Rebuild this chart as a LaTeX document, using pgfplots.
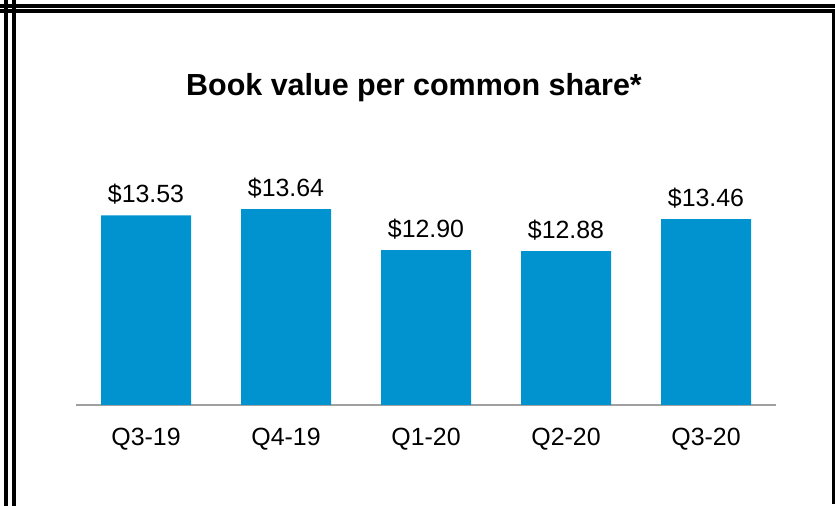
\documentclass[border=0pt]{standalone}
\usepackage{fontspec}
\setmainfont{Liberation Sans}
\usepackage{pgfplots}
\usepackage{pgfplotstable}
\pgfplotsset{compat=1.18}
\definecolor{barblue}{RGB}{0,147,208}
\definecolor{axisgray}{RGB}{160,160,160}

\pgfplotstableread{
x v
0 13.53
1 13.64
2 12.90
3 12.88
4 13.46
}\bookvalue

\begin{document}
\begin{tikzpicture}[x=1bp,y=1bp]
\useasboundingbox (0,0) rectangle (835,506);
% frame
\fill (4,0) rectangle (8,506);
\fill (12,0) rectangle (16,506);
\fill (0,498) rectangle (835,502);
\fill (0,493) rectangle (835,497);
\fill (832,2) rectangle (835,497);

\node[anchor=base,font=\fontsize{30.6}{32}\selectfont\bfseries] at (414,410) {Book value per common share*};

\begin{axis}[
  at={(76bp,101bp)}, anchor=south west,
  scale only axis, width=700bp, height=215.7bp,
  xmin=-0.5, xmax=4.5, ymin=0, ymax=3.9,
  axis x line=bottom, axis y line=none,
  x axis line style={draw=axisgray, line width=2bp, -},
  xtick={0,1,2,3,4},
  xticklabels={Q3-19,Q4-19,Q1-20,Q2-20,Q3-20},
  major tick length=0pt,
  xticklabel style={anchor=base, yshift=-41bp, font=\fontsize{25}{27}\selectfont},
  ytick=\empty,
  clip=false,
  ybar, bar width=90bp,
  /pgf/number format/assume math mode=true,
  nodes near coords={\$\pgfmathprintnumber[fixed,precision=2,zerofill,assume math mode=true]{\pgfplotspointmeta}},
  every node near coord/.append style={anchor=base, yshift=13bp, font=\fontsize{25}{27}\selectfont, text=black},
]
\addplot[fill=barblue, draw=none, point meta=explicit]
  table[x=x, y expr=\thisrow{v}-10.1, meta=v] {\bookvalue};
\end{axis}
\end{tikzpicture}
\end{document}
